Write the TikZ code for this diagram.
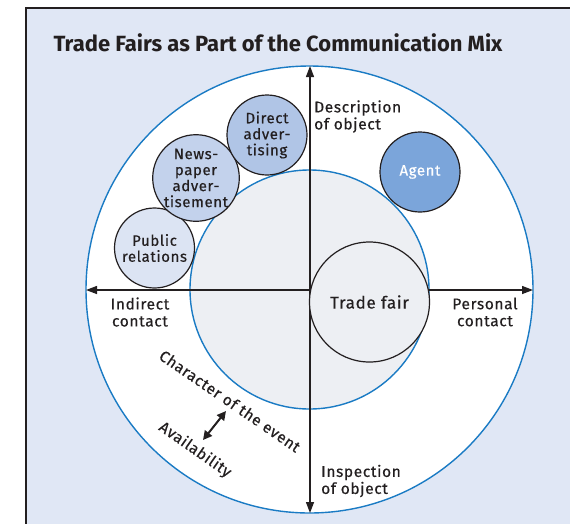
\documentclass[tikz,border=0pt]{standalone}
\usepackage{fontspec}
\setmainfont{Fira Sans}
\newfontfamily\lblfont{Fira Sans}[LetterSpace=4,FakeBold=0.4]
\usetikzlibrary{arrows.meta}
\definecolor{framebg}{HTML}{E0E7F5}
\definecolor{ringblue}{HTML}{1A7BC4}
\definecolor{innerfill}{HTML}{EDEFF3}
\definecolor{prfill}{HTML}{DCE4F3}
\definecolor{npfill}{HTML}{C3D2EC}
\definecolor{dafill}{HTML}{B0C5E6}
\definecolor{agfill}{HTML}{7BA5DA}
\definecolor{ink}{HTML}{231F20}
\tikzset{
  ring/.style={draw=ringblue, line width=1.4pt},
  bubble/.style={circle, draw=ink, line width=1.2pt, minimum size=80, inner sep=0pt, align=center, text=ink, font=\lblfont\fontsize{15}{16}\selectfont},
  axis/.style={draw=ink, line width=1.3pt, {Triangle[length=11pt,width=8pt]}-{Triangle[length=11pt,width=8pt]}},
  lbl/.style={inner sep=0pt, text=ink, font=\lblfont\fontsize{15.5}{17}\selectfont},
}
\begin{document}
\begin{tikzpicture}[x=1pt,y=-1pt]
\useasboundingbox (0,0) rectangle (570,523);
\fill[white] (0,0) rectangle (570,523);
\draw[draw=ink, line width=1.5pt, fill=framebg] (26,8) rectangle (600,560);
\node[inner sep=0pt, text=ink, font=\bfseries\fontsize{22}{24}\selectfont] (title) at (278,43) {Trade Fairs as Part of the Communication Mix};
% rings
\draw[ring, fill=white] (309.5,289.5) circle[radius=223.5];
\draw[ring, fill=innerfill] (309.5,289.5) circle[radius=119.5];
% axes
\coordinate (top) at (310,66);
\coordinate (bot) at (310,513);
\coordinate (lft) at (86,290);
\coordinate (rgt) at (533,290);
\draw[axis] (bot) -- (top);
\draw[axis] (lft) -- (rgt);
% bubbles
\node[bubble, fill=prfill] (pr) at (154.5,248) {Public\\relations};
\node[bubble, fill=npfill] (np) at (196,178) {News-\\paper\\adver-\\tisement};
\node[bubble, fill=dafill] (da) at (267,135) {Direct\\adver-\\tising};
\node[bubble, fill=agfill, text=white] (ag) at (420,172) {Agent};
\node[bubble, fill=innerfill, minimum size=120, font=\lblfont\fontsize{17}{18}\selectfont] (tf) at (369.5,302) {Trade fair};
% labels
\node[lbl, anchor=west, align=left] (desc) at (314,116.5) {Description\\of object};
\node[lbl, align=center] (indir) at (140,312) {Indirect\\contact};
\node[lbl, align=center] (pers) at (485,312) {Personal\\contact};
\node[lbl, anchor=west, align=left] (insp) at (321,481) {Inspection\\of object};
\node[lbl, rotate=-34.5] (char) at (230,401) {Character of the event};
\node[lbl, rotate=-35] (avail) at (195,450) {Availability};
\coordinate (a1) at (203,440);
\coordinate (a2) at (226,411);
\draw[draw=ink, line width=2pt, {Triangle[length=9pt,width=9pt]}-{Triangle[length=9pt,width=9pt]}] (a1) -- (a2);
\end{tikzpicture}
\end{document}
